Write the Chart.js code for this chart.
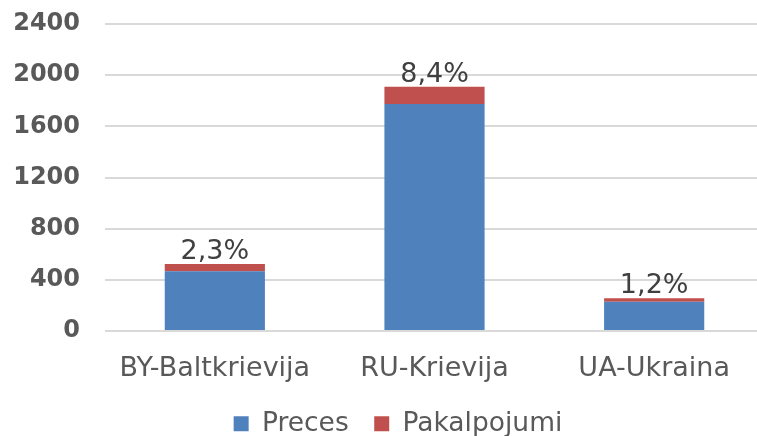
<!DOCTYPE html>
<html>
<head>
<meta charset="utf-8">
<script src="https://cdn.jsdelivr.net/npm/chart.js@4/dist/chart.umd.min.js"></script>
<style>
html,body{margin:0;padding:0;background:#fff;overflow:hidden;}
#wrap{width:784px;height:447px;position:relative;}
</style>
</head>
<body>
<div id="wrap"><canvas id="c"></canvas></div>
<script>
const categories = ["BY-Baltkrievija", "RU-Krievija", "UA-Ukraina"];
const preces = [467, 1775, 229];
const pakalpojumi = [57, 135, 27];
const shareLabels = ["2,3%", "8,4%", "1,2%"];
const yTicks = [0, 400, 800, 1200, 1600, 2000, 2400];

const FONT = "'DejaVu Sans', Verdana, sans-serif";

const topLabels = {
  id: 'topLabels',
  afterDatasetsDraw(chart) {
    const ctx = chart.ctx;
    const meta = chart.getDatasetMeta(1);
    ctx.save();
    ctx.font = "27px " + FONT;
    ctx.fillStyle = "#404040";
    ctx.textAlign = "center";
    ctx.textBaseline = "alphabetic";
    meta.data.forEach((bar, i) => {
      ctx.fillText(shareLabels[i], bar.x, bar.y - 5);
    });
    ctx.restore();
  }
};

new Chart(document.getElementById('c'), {
  type: 'bar',
  data: {
    labels: categories,
    datasets: [
      { label: 'Preces', data: preces, backgroundColor: '#4F81BD', categoryPercentage: 1, barPercentage: 0.456 },
      { label: 'Pakalpojumi', data: pakalpojumi, backgroundColor: '#C0504D', categoryPercentage: 1, barPercentage: 0.456 }
    ]
  },
  options: {
    responsive: true,
    maintainAspectRatio: false,
    animation: false,
    layout: { padding: { top: 24, left: 12, right: 0, bottom: 0 } },
    plugins: {
      legend: {
        position: 'bottom',
        labels: {
          font: { family: FONT, size: 26.5 },
          color: '#595959',
          boxWidth: 15,
          boxHeight: 15,
          padding: 25.5
        }
      },
      tooltip: { enabled: false }
    },
    scales: {
      x: {
        stacked: true,
        grid: { display: false },
        border: { display: false },
        ticks: { font: { family: FONT, size: 27 }, color: '#595959', padding: 14, maxRotation: 0 },
        afterFit(s) { s.height = 54; }
      },
      y: {
        stacked: true,
        min: 0,
        max: 2400,
        afterBuildTicks(s) { s.ticks = yTicks.map(v => ({ value: v })); },
        grid: { color: '#D9D9D9', lineWidth: 2, drawTicks: false },
        border: { display: false },
        ticks: {
          font: { family: FONT, size: 24, weight: 'bold' },
          color: '#595959',
          padding: 25,
          callback: (v) => String(v)
        },
        afterFit(s) { s.width = 93; s.paddingTop = 0; s.paddingBottom = 0; }
      },
      yRight: {
        type: 'linear',
        axis: 'y',
        position: 'right',
        display: true,
        grid: { display: false, drawTicks: false },
        border: { display: false },
        ticks: { display: false },
        afterFit(s) { s.width = 20; s.paddingTop = 0; s.paddingBottom = 0; }
      }
    }
  },
  plugins: [topLabels]
});
</script>
</body>
</html>
